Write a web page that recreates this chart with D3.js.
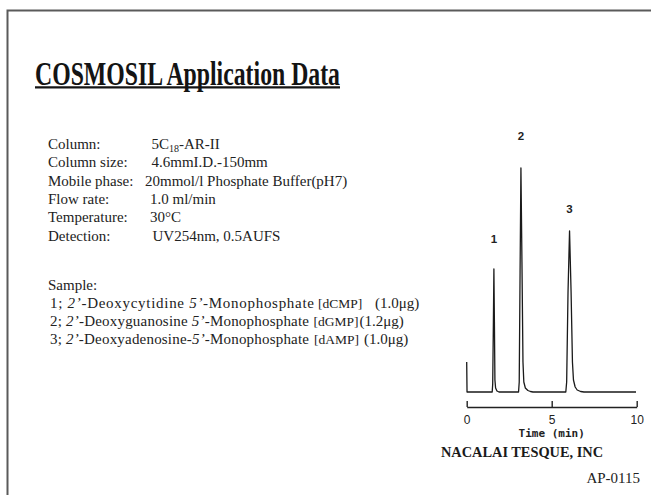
<!DOCTYPE html>
<html><head><meta charset="utf-8">
<script src="https://cdn.jsdelivr.net/npm/d3@7"></script>
<style>
html,body{margin:0;padding:0;background:#fff;}
svg{display:block;}
</style></head>
<body>
<svg id="c" width="651" height="495"></svg>
<script>
// ---- data ----
const title = "COSMOSIL Application Data";
const paramLabels = ["Column:", "Column size:", "Mobile phase:", "Flow rate:", "Temperature:", "Detection:"];
const paramValues = ["5C|18|-AR-II", "4.6mmI.D.-150mm", "20mmol/l Phosphate Buffer(pH7)", "1.0 ml/min", "30°C", "UV254nm, 0.5AUFS"];
const sampleNums = ["1; ", "2; ", "3; "];
const sampleNames = ["-Deoxycytidine ", "-Deoxyguanosine ", "-Deoxyadenosine-"];
const sampleCodes = ["[dCMP]", "[dGMP]", "[dAMP]"];
const sampleAmounts = ["(1.0μg)", "(1.2μg)", "(1.0μg)"];
const peakLabels = ["1", "2", "3"];
const peakTimes = [1.60, 3.19, 6.05];
const peakLabelLevels = [149, 252, 179];
const tickValues = [0, 5, 10];
const tickLabels = ["0", "5", "10"];
const xLabel = "Time (min)";
const company = "NACALAI TESQUE, INC";
const docId = "AP-0115";
// chromatogram trace: time (min), detector signal (arb.)
const traceTime = [0.00, 0.02, 1.50, 1.53, 1.57, 1.60, 1.63, 1.66, 1.70, 1.78, 1.90,
  3.05, 3.09, 3.14, 3.19, 3.25, 3.31, 3.36, 3.45, 3.60, 3.75, 3.90,
  5.83, 5.88, 5.96, 6.05, 6.14, 6.22, 6.28, 6.38, 6.50, 6.70, 6.90, 9.96];
const traceSignal = [30, 0, 0, 8, 70, 123, 70, 12, 4, 1, 0,
  0, 10, 120, 224, 130, 30, 10, 4, 1.5, 0.5, 0,
  0, 10, 100, 161, 100, 30, 12, 5, 2, 0.5, 0, 0];

// ---- drawing ----
const svg = d3.select("#c");
const serif = "'Liberation Serif','Times New Roman',serif";

// frame
svg.append("path").attr("d", "M7.5,520V10.5H660")
  .attr("fill", "none").attr("stroke", "#5a5a5a").attr("stroke-width", 2);

// title
svg.append("text").attr("x", 35).attr("y", 85)
  .attr("font-family", serif).attr("font-weight", "bold").attr("font-size", 33)
  .attr("textLength", 305).attr("lengthAdjust", "spacingAndGlyphs")
  .attr("fill", "#141414").text(title);
svg.append("line").attr("x1", 35).attr("x2", 340).attr("y1", 87.4).attr("y2", 87.4)
  .attr("stroke", "#141414").attr("stroke-width", 2.3);

// parameters
const pg = svg.append("g").attr("font-family", serif).attr("font-size", 15).attr("fill", "#222");
const valueX = [151.5, 151.5, 145, 150, 150, 152.5];
paramLabels.forEach((l, i) => {
  const yb = 149 + i * 18.3;
  pg.append("text").attr("x", 48).attr("y", yb).text(l);
  const t = pg.append("text").attr("x", valueX[i]).attr("y", yb);
  const parts = paramValues[i].split("|");
  if (parts.length === 3) {
    t.append("tspan").text(parts[0]);
    t.append("tspan").attr("font-size", 10).attr("dy", 3).text(parts[1]);
    t.append("tspan").attr("dy", -3).text(parts[2]);
  } else t.text(parts[0]);
});

// sample
pg.append("text").attr("x", 48).attr("y", 289.5).text("Sample:");
const preLen = [264, 259, 259];
const codeX = [318, 313.5, 314];
const amtX = [375, 359.5, 364];
sampleNums.forEach((n, i) => {
  const yb = 307.8 + i * 18.3;
  const t = pg.append("text").attr("x", 50).attr("y", yb)
    .attr("textLength", preLen[i]).attr("lengthAdjust", "spacing")
    .attr("xml:space", "preserve");
  t.append("tspan").text(n);
  t.append("tspan").attr("font-style", "italic").text("2’");
  t.append("tspan").text(sampleNames[i]);
  t.append("tspan").attr("font-style", "italic").text("5’");
  t.append("tspan").text("-Monophosphate");
  pg.append("text").attr("x", codeX[i]).attr("y", yb).attr("font-size", 13.5).text(sampleCodes[i]);
  pg.append("text").attr("x", amtX[i]).attr("y", yb).text(sampleAmounts[i]);
});

// chromatogram
const x = d3.scaleLinear().domain([0, 10]).range([466.7, 636.7]);
const y = d3.scaleLinear().domain([0, 250]).range([392, 142]);
const pts = traceTime.map((t, i) => [t, traceSignal[i]]);
const line = d3.line().x(d => x(d[0])).y(d => y(d[1]));
svg.append("path").datum(pts).attr("d", line)
  .attr("fill", "none").attr("stroke", "#1a1a1a").attr("stroke-width", 1.3)
  .attr("stroke-linejoin", "round");

svg.append("g").selectAll("text").data(peakLabels).join("text")
  .attr("x", (d, i) => x(peakTimes[i])).attr("y", (d, i) => y(peakLabelLevels[i]))
  .attr("text-anchor", "middle").attr("font-family", "'Liberation Sans',Arial,sans-serif")
  .attr("font-weight", "bold").attr("font-size", 11.5).attr("fill", "#222").text(d => d);

// axis
const axis = d3.axisBottom(x).tickValues(tickValues)
  .tickFormat((d, i) => tickLabels[i]).tickSizeInner(-6).tickSizeOuter(0).tickPadding(8.5);
const ag = svg.append("g").attr("transform", "translate(0,407)").call(axis);
ag.select(".domain").attr("stroke", "#222").attr("stroke-width", 1.4);
ag.selectAll(".tick line").attr("stroke", "#222").attr("stroke-width", 1.4);
ag.selectAll(".tick text").attr("font-family", "'Liberation Sans',Arial,sans-serif")
  .attr("font-size", 12).attr("fill", "#222");

svg.append("text").attr("x", x(5)).attr("y", 437).attr("text-anchor", "middle")
  .attr("font-family", "'DejaVu Sans Mono',monospace").attr("font-weight", "bold")
  .attr("font-size", 11).attr("fill", "#222").text(xLabel);

svg.append("text").attr("x", 441).attr("y", 456.5)
  .attr("font-family", serif).attr("font-weight", "bold").attr("font-size", 15)
  .attr("textLength", 162).attr("lengthAdjust", "spacingAndGlyphs")
  .attr("fill", "#1a1a1a").text(company);

svg.append("text").attr("x", 640).attr("y", 483).attr("text-anchor", "end")
  .attr("font-family", serif).attr("font-size", 15).attr("fill", "#222").text(docId);
</script>
</body></html>
